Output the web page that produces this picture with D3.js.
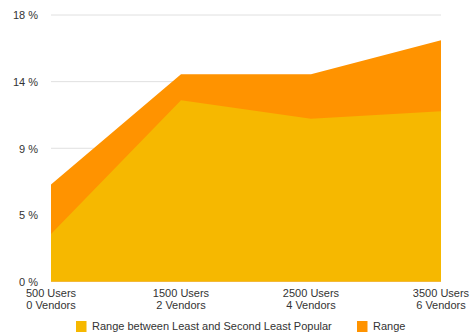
<!DOCTYPE html>
<html><head><meta charset="utf-8">
<script src="https://cdn.jsdelivr.net/npm/d3@7"></script>
<style>
html,body{margin:0;padding:0;background:#fff;}
svg{display:block;font-family:"Liberation Sans",Arial,Helvetica,sans-serif;}
</style></head>
<body><svg id="c" width="470" height="336"></svg>
<script>
const categories = [["500 Users","0 Vendors"],["1500 Users","2 Vendors"],["2500 Users","4 Vendors"],["3500 Users","6 Vendors"]];
const seriesNames = ["Range between Least and Second Least Popular","Range"];
const leastSecond = [3.2, 12.25, 11.0, 11.5];
const rangeVals = [6.55, 14.0, 14.0, 16.3];
const yTicks = [0, 4.5, 9, 13.5, 18];
const colors = ["#F6B800", "#FF9300"];

const svg = d3.select("#c");
const x = d3.scalePoint().domain(d3.range(categories.length)).range([51, 441]);
const y = d3.scaleLinear().domain([0, 18]).range([281.5, 15]);

// grid
svg.append("g").selectAll("line").data(yTicks).join("line")
  .attr("x1", 51).attr("x2", 441)
  .attr("y1", d => y(d)).attr("y2", d => y(d))
  .attr("stroke", "#e0e0e0").attr("stroke-width", 1);

const area = vals => d3.area().x((d,i)=>x(i)).y0(y(0)).y1(d=>y(d))(vals);
svg.append("path").attr("d", area(rangeVals)).attr("fill", colors[1]);
svg.append("path").attr("d", area(leastSecond)).attr("fill", colors[0]);

// y axis labels
const yAxis = d3.axisLeft(y).tickValues(yTicks).tickSize(0).tickPadding(0)
  .tickFormat(d => Math.round(d) + " %");
const gy = svg.append("g").attr("transform", "translate(38,0)").call(yAxis);
gy.select(".domain").remove();
gy.selectAll("text").attr("font-size", 11).attr("fill", "#333").attr("font-family", "inherit").attr("dy", "0.35em");

// x labels
const gx = svg.append("g");
categories.forEach((c, i) => {
  c.forEach((t, j) => {
    gx.append("text").attr("x", x(i)).attr("y", 293 + j * 12.5)
      .attr("dy", "0.35em").attr("text-anchor", "middle")
      .attr("font-size", 11).attr("fill", "#333").text(t);
  });
});

// legend
const leg = [{x:76, tx:92}, {x:357, tx:373}];
seriesNames.forEach((n, i) => {
  svg.append("rect").attr("x", leg[i].x).attr("y", 321).attr("width", 10.5).attr("height", 11)
    .attr("fill", colors[i]);
  svg.append("text").attr("x", leg[i].tx).attr("y", 326.5).attr("dy", "0.35em")
    .attr("font-size", 11).attr("fill", "#333").text(n);
});
</script></body></html>
